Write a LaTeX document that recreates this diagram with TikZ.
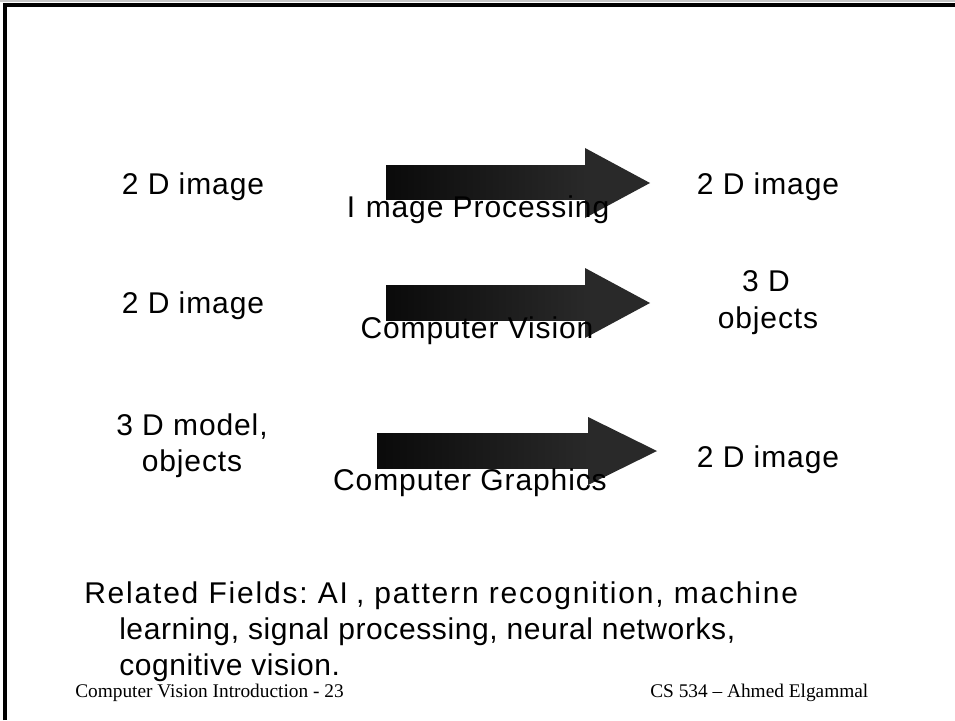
\documentclass[tikz,border=0pt]{standalone}
\usepackage{fontspec}
\setmainfont{Liberation Sans}[LetterSpace=3]
\newfontfamily\footfont{Liberation Serif}
\frenchspacing
\begin{document}
\begin{tikzpicture}[x=0.75pt,y=-0.75pt,
  lbl/.style={font=\fontsize{22.5pt}{27pt}\selectfont, inner sep=0pt, anchor=base},
  foot/.style={font=\footfont\fontsize{14.5pt}{17pt}\selectfont, inner sep=0pt, anchor=base west},
  arrowbody/.style={left color=black!96, right color=black!84},
  arrowhead/.style={fill=black!84}]
\useasboundingbox (0,0) rectangle (955,720);
\fill[white] (0,0) rectangle (955,720);
% frame
\draw[gray!45, line width=1.5] (0,1) -- (955,1);
\draw[black, line width=3.2] (5,720) -- (5,5) -- (955,5);
% arrows
\shade[arrowbody] (386,166) rectangle (585,200);
\fill[arrowhead] (585,148) -- (650,183) -- (585,218) -- cycle;
\shade[arrowbody] (386,285) rectangle (585,320);
\fill[arrowhead] (585,268) -- (650,303) -- (585,338) -- cycle;
\shade[arrowbody] (377,433) rectangle (588,468);
\fill[arrowhead] (588,417) -- (657,451) -- (588,485) -- cycle;
% row 1
\node[lbl] (src1) at (193,195) {2 D image};
\node[lbl] (dst1) at (768,195) {2 D image};
\node[lbl] (ip) at (478,218) {I\kern8pt mage Processing};
% row 2
\node[lbl] (src2) at (193,313) {2 D image};
\node[lbl] (dst2a) at (766,291) {3 D};
\node[lbl] (dst2b) at (768,328) {objects};
\node[lbl] (cv) at (477,338) {Computer Vision};
% row 3
\node[lbl] (src3a) at (192,435) {3 D model,};
\node[lbl] (src3b) at (192,471) {objects};
\node[lbl] (dst3) at (768,467) {2 D image};
\node[lbl] (cg) at (470,490) {Computer Graphics};
% related fields
\node[lbl, anchor=base west, font=\fontsize{22.5pt}{27pt}\selectfont\addfontfeature{LetterSpace=6}] (rf1) at (84,603) {Related Fields: AI\kern6pt , pattern recognition, machine};
\node[lbl, anchor=base west, font=\fontsize{22.5pt}{27pt}\selectfont\addfontfeature{LetterSpace=2}] (rf2) at (119,639) {learning, signal processing, neural networks,};
\node[lbl, anchor=base west, font=\fontsize{22.5pt}{27pt}\selectfont\addfontfeature{LetterSpace=2}] (rf3) at (119,675) {cognitive vision.};
% footer
\node[foot] (fl) at (75,697) {Computer Vision Introduction - 23};
\node[foot] (fr) at (650,697) {CS 534 – Ahmed Elgammal};
\end{tikzpicture}
\end{document}
